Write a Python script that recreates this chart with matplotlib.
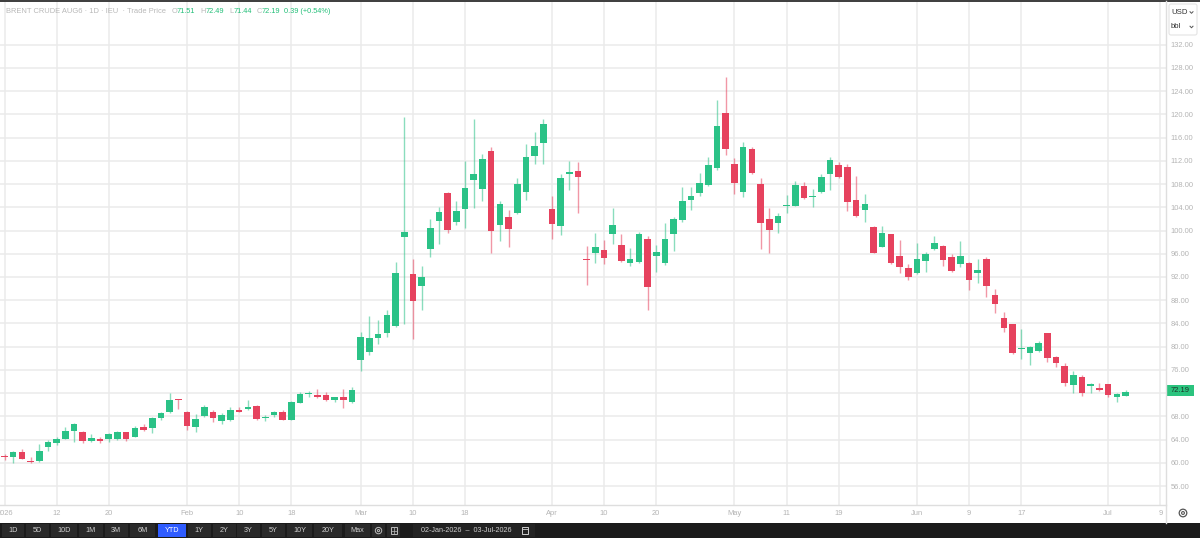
import matplotlib
matplotlib.use("Agg")
import matplotlib.pyplot as plt
from matplotlib.patches import Rectangle, FancyBboxPatch, Circle
import numpy as np
import pandas as pd

plt.rcParams['font.family'] = ['Liberation Sans', 'DejaVu Sans']

# ---------------- data ----------------
start_date = '2026-01-02'
end_date = '2026-07-03'
holidays = ['2026-04-03']
dates = pd.bdate_range(start_date, end_date, freq='C', holidays=holidays)

opens = [61.05, 61.07, 61.88, 60.33, 60.38, 62.74, 63.48, 64.17, 65.55, 65.37,
         63.82, 64.06, 64.17, 64.17, 65.27, 64.51, 66.18, 65.96, 67.67, 68.76,
         70.85, 68.70, 66.12, 68.02, 68.70, 67.27, 67.38, 69.16, 69.22, 69.85,
         67.75, 68.19, 68.70, 67.44, 70.37, 71.88, 71.63, 71.63, 70.83, 71.29,
         70.54, 77.76, 79.14, 81.45, 82.31, 83.56, 98.93, 92.51, 90.50, 96.87,
         101.69, 106.51, 101.46, 103.65, 108.69, 107.14, 113.73, 100.95, 102.27, 102.96,
         106.63, 112.77, 115.00, 103.65, 100.78, 109.78, 110.29, 95.00, 96.08, 96.64,
         99.40, 97.50, 94.35, 94.63, 98.48, 95.62, 94.46, 99.34, 101.82, 105.25,
         106.40, 107.83, 110.71, 120.28, 111.39, 106.68, 114.03, 107.95, 101.93, 101.24,
         104.15, 104.27, 107.66, 105.70, 106.57, 109.70, 111.22, 110.88, 105.25, 103.53,
         100.65, 97.16, 99.35, 95.61, 93.49, 92.63, 94.75, 96.82, 97.33, 95.39,
         94.23, 94.46, 92.63, 95.04, 88.90, 85.00, 83.86, 79.55, 78.86, 79.32,
         82.31, 78.28, 76.68, 73.40, 74.78, 73.30, 72.94, 73.53, 71.30, 71.51]
highs = [61.50, 62.00, 62.40, 60.95, 63.25, 63.94, 64.40, 66.12, 66.92, 65.45,
         64.97, 64.40, 65.20, 65.49, 65.37, 66.41, 66.69, 67.96, 68.82, 71.98,
         71.00, 68.93, 68.36, 69.97, 69.10, 68.53, 69.57, 69.67, 70.83, 69.97,
         68.25, 68.93, 69.10, 70.70, 72.15, 72.43, 72.66, 72.26, 71.40, 72.66,
         73.12, 82.48, 85.30, 84.60, 86.32, 94.63, 119.48, 95.09, 93.89, 101.93,
         103.99, 106.70, 105.08, 111.96, 119.19, 113.17, 114.42, 105.08, 103.53, 108.98,
         114.84, 116.90, 119.19, 106.00, 109.72, 111.96, 111.74, 97.33, 99.52, 98.36,
         103.82, 99.40, 96.94, 99.80, 99.11, 97.50, 101.24, 102.38, 107.43, 107.43,
         109.85, 112.60, 122.46, 126.37, 112.43, 115.28, 114.32, 108.98, 103.92, 102.96,
         106.06, 108.52, 108.30, 107.14, 109.67, 112.60, 111.79, 111.45, 109.38, 106.28,
         100.80, 100.76, 99.40, 98.37, 94.18, 97.80, 96.35, 99.05, 97.56, 95.96,
         98.19, 94.50, 95.04, 95.49, 89.88, 85.98, 83.90, 83.05, 80.10, 80.98,
         82.40, 78.45, 77.14, 75.85, 75.16, 73.70, 73.70, 73.55, 72.00, 72.49]
lows = [60.50, 59.90, 60.60, 60.05, 60.15, 62.10, 63.00, 64.06, 63.65, 63.48,
        63.65, 63.48, 63.65, 63.94, 63.77, 64.40, 65.49, 65.20, 67.38, 68.64,
        69.33, 65.66, 65.37, 67.85, 67.10, 66.64, 67.27, 68.75, 69.10, 67.33,
        67.27, 67.90, 67.38, 67.38, 70.25, 71.29, 71.12, 70.70, 70.54, 69.40,
        70.37, 75.87, 78.57, 80.47, 81.62, 83.44, 83.90, 81.33, 86.32, 95.39,
        97.68, 99.62, 100.95, 100.48, 103.82, 105.13, 96.08, 98.19, 97.21, 102.80,
        105.25, 111.50, 111.44, 98.48, 99.23, 106.97, 102.96, 90.62, 94.35, 94.23,
        97.68, 94.60, 93.94, 94.46, 86.32, 92.81, 94.06, 96.52, 101.41, 103.53,
        105.94, 107.70, 110.41, 113.00, 106.28, 105.71, 109.70, 96.82, 96.18, 99.62,
        102.96, 104.20, 105.42, 103.99, 106.40, 106.97, 109.00, 103.41, 102.32, 101.41,
        96.06, 97.10, 94.30, 92.74, 91.48, 92.55, 92.91, 96.65, 93.94, 92.80,
        93.77, 89.76, 90.91, 88.61, 85.86, 82.48, 78.80, 77.82, 76.84, 79.15,
        77.42, 76.56, 73.23, 72.08, 71.52, 71.99, 72.42, 71.29, 70.43, 71.44]
closes = [60.95, 61.93, 60.73, 60.10, 62.10, 63.55, 64.11, 65.55, 66.69, 63.82,
          64.23, 63.71, 65.03, 65.37, 64.11, 65.96, 65.66, 67.73, 68.59, 70.83,
          70.75, 66.41, 67.50, 69.57, 67.67, 68.19, 69.10, 68.82, 69.57, 67.50,
          67.85, 68.82, 67.44, 70.54, 71.80, 71.98, 71.29, 70.83, 71.35, 70.83,
          72.49, 81.67, 81.45, 82.13, 85.40, 92.74, 99.69, 87.81, 92.00, 100.48,
          103.18, 100.14, 103.36, 107.31, 109.72, 112.25, 99.91, 104.51, 100.31, 108.00,
          112.60, 114.49, 118.33, 101.12, 108.98, 110.02, 109.16, 94.85, 97.21, 95.22,
          100.95, 94.80, 95.04, 99.40, 90.33, 96.25, 98.48, 101.93, 105.13, 105.99,
          108.23, 111.22, 117.99, 113.98, 108.12, 114.32, 109.85, 101.24, 100.09, 102.55,
          104.30, 107.83, 105.65, 105.82, 109.26, 112.13, 109.16, 104.96, 102.50, 104.56,
          96.18, 99.62, 94.35, 93.67, 92.05, 95.04, 95.96, 97.80, 94.97, 93.03,
          95.61, 91.48, 93.20, 90.45, 87.35, 83.17, 78.97, 79.68, 80.00, 80.59,
          78.00, 77.14, 73.80, 75.16, 72.08, 73.42, 72.60, 71.69, 71.80, 72.19]

tick_dates = ['2026-01-02', '2026-01-12', '2026-01-20', '2026-02-02', '2026-02-10',
              '2026-02-18', '2026-03-02', '2026-03-10', '2026-03-18', '2026-04-01',
              '2026-04-10', '2026-04-20', '2026-05-01', '2026-05-11', '2026-05-19',
              '2026-06-01', '2026-06-09', '2026-06-17', '2026-07-01', '2026-07-09']
tick_labels = ['2026', '12', '20', 'Feb', '10', '18', 'Mar', '10', '18', 'Apr',
               '10', '20', 'May', '11', '19', 'Jun', '9', '17', 'Jul', '9']
price_ticks = [56, 60, 64, 68, 72, 76, 80, 84, 88, 92, 96, 100, 104, 108,
               112, 116, 120, 124, 128, 132]

header_name = 'BRENT CRUDE AUG6 \u00b7 1D \u00b7 IEU  \u00b7 Trade Price'
last_ohlc = [('O', '71.51'), ('H', '72.49'), ('L', '71.44'), ('C', '72.19')]
change_text = '0.39 (+0.54%)'
last_price = '72.19'
range_buttons = ['1D', '5D', '10D', '1M', '3M', '6M', 'YTD', '1Y', '2Y', '3Y',
                 '5Y', '10Y', '20Y', 'Max']
date_range_text = '02-Jan-2026  \u2013  03-Jul-2026'

# ---------------- styling ----------------
W, H = 1200, 538
GREEN = '#2bc287'
RED = '#e6425e'
GRID = '#ebebeb'
AXTXT = '#b4b4b4'

fig = plt.figure(figsize=(W / 100, H / 100), dpi=100)
fig.patch.set_facecolor('white')

plot_left, plot_right, plot_top, plot_bot = 0, 1166, 2, 505
ax = fig.add_axes([plot_left / W, 1 - plot_bot / H,
                   (plot_right - plot_left) / W, (plot_bot - plot_top) / H])

# pixel mapping of the reference: x = 4.5 + 8.69*i ; price = 120 - (y-114.3)/5.81
px_per_bar = 8.69
x0_px = 4.5
ax.set_xlim((plot_left - x0_px) / px_per_bar, (plot_right - x0_px) / px_per_bar)
p_of_y = lambda y: 120 - (y - 114.3) / 5.81
ax.set_ylim(p_of_y(plot_bot), p_of_y(plot_top))

idx = np.arange(len(dates))
o = np.array(opens); h = np.array(highs); l = np.array(lows); c = np.array(closes)
up = c >= o
cols = np.where(up, GREEN, RED)

ax.vlines(idx, l, h, colors=cols, linewidth=1.0, alpha=0.55, zorder=3)
body_lo = np.minimum(o, c)
body_h = np.maximum(np.abs(c - o), 0.2)
ax.bar(idx, body_h, bottom=body_lo, width=0.76, color=cols, linewidth=0, zorder=4)

tick_pos = np.busday_count(start_date, tick_dates, holidays=holidays)
ax.set_xticks(tick_pos)
ax.set_xticklabels(tick_labels)
ax.set_yticks(price_ticks)
# the 72.00 label sits under the last-price tag in the reference
ax.set_yticklabels(['' if v == 72 else f'{v:.2f}' for v in price_ticks])
ax.yaxis.tick_right()
ax.tick_params(axis='y', length=0, pad=3.2, labelsize=5.4, labelcolor=AXTXT)
ax.tick_params(axis='x', length=0, pad=3.6, labelsize=5.4, labelcolor=AXTXT)
ax.grid(True, color=GRID, linewidth=1.1, zorder=0)
ax.set_axisbelow(True)
for s in ax.spines.values():
    s.set_visible(False)

# ---------------- overlay in pixel coordinates ----------------
ov = fig.add_axes([0, 0, 1, 1], zorder=10)
ov.set_xlim(0, W)
ov.set_ylim(H, 0)
ov.axis('off')
ov.patch.set_visible(False)

# frame lines
ov.plot([0, W], [0.6, 0.6], color='#3c3c3c', lw=1.4)
ov.plot([0, plot_right], [plot_bot, plot_bot], color='#dedede', lw=1.0)
ov.plot([plot_right, plot_right], [1, 523], color='#dedede', lw=1.0)

# header
ov.text(6, 11.5, header_name, fontsize=5.4, color='#b8b8b8', va='center', ha='left')
hx = [(171.5, 177), (200.5, 206), (229, 233.5), (256.5, 262)]
for (lab, val), (xl, xv) in zip(last_ohlc, hx):
    ov.text(xl, 11.5, lab, fontsize=5.3, color='#b8b8b8', va='center', ha='left')
    ov.text(xv, 11.5, val, fontsize=5.3, color='#22bf78', va='center', ha='left')
ov.text(284, 11.5, change_text, fontsize=5.3, color='#22bf78', va='center', ha='left')

# currency / unit box
ov.add_patch(FancyBboxPatch((1169, 4), 28, 31, boxstyle='round,pad=0,rounding_size=2',
                            facecolor='white', edgecolor='#e4e4e4', lw=0.8))
ov.text(1171, 12.5, 'USD', fontsize=5.6, color='#333333', va='center', ha='left')
ov.text(1171, 27, 'bbl', fontsize=5.6, color='#333333', va='center', ha='left')
for yy in (12.5, 27):
    ov.plot([1190, 1191.5, 1193], [yy - 0.8, yy + 0.8, yy - 0.8], color='#555555', lw=0.7)

# last price tag
tag_y = 390.5
ov.add_patch(Rectangle((1166.5, tag_y - 5.5), 27, 11, facecolor='#2bc37e', edgecolor='none'))
ov.text(1180, tag_y + 0.3, last_price, fontsize=5.4, color='#1d3328', va='center', ha='center')

# gear icon bottom right
ov.add_patch(Circle((1183, 513), 3.8, facecolor='none', edgecolor='#555555', lw=0.9))
ov.add_patch(Circle((1183, 513), 1.4, facecolor='none', edgecolor='#555555', lw=0.8))

# bottom toolbar
ov.add_patch(Rectangle((0, 522.5), W, 15.5, facecolor='#1b1b1b', edgecolor='none'))
btn_x = [(2, 24), (26, 49), (51, 76.5), (79, 102.5), (104.5, 127.5), (130, 155),
         (158, 185.5), (187.5, 210.5), (212.5, 235.5), (237, 260), (262, 285),
         (287, 312), (314, 342), (344.5, 369.5)]
for name, (xa, xb) in zip(range_buttons, btn_x):
    fc = '#2f5cff' if name == 'YTD' else '#2a2a2a'
    ov.add_patch(Rectangle((xa, 524), xb - xa, 13, facecolor=fc, edgecolor='none'))
    ov.text((xa + xb) / 2, 530.6, name, fontsize=5.2,
            color='white' if name == 'YTD' else '#cfcfcf', va='center', ha='center')
# icon buttons
for xa, xb in [(372, 385), (387, 400)]:
    ov.add_patch(Rectangle((xa, 524), xb - xa, 13, facecolor='#2a2a2a', edgecolor='none'))
ov.add_patch(Circle((378.5, 530.6), 3.2, facecolor='none', edgecolor='#bbbbbb', lw=0.7))
ov.add_patch(Circle((378.5, 530.6), 1.1, facecolor='none', edgecolor='#bbbbbb', lw=0.7))
ov.add_patch(Rectangle((390.5, 527.4), 6, 6.5, facecolor='none', edgecolor='#bbbbbb', lw=0.7))
ov.plot([390.5, 396.5], [530.6, 530.6], color='#bbbbbb', lw=0.5)
ov.plot([393.5, 393.5], [527.4, 533.9], color='#bbbbbb', lw=0.5)
# date range
ov.add_patch(Rectangle((412.5, 524), 122.5, 13, facecolor='#232323', edgecolor='none'))
ov.text(466, 530.6, date_range_text, fontsize=5.2, color='#cfcfcf', va='center', ha='center')
ov.add_patch(Rectangle((521.5, 527.2), 6.5, 6.8, facecolor='none', edgecolor='#cfcfcf', lw=0.7))
ov.plot([521.5, 528], [529.2, 529.2], color='#cfcfcf', lw=0.6)

fig.savefig('out.png', dpi=100, facecolor='white')
